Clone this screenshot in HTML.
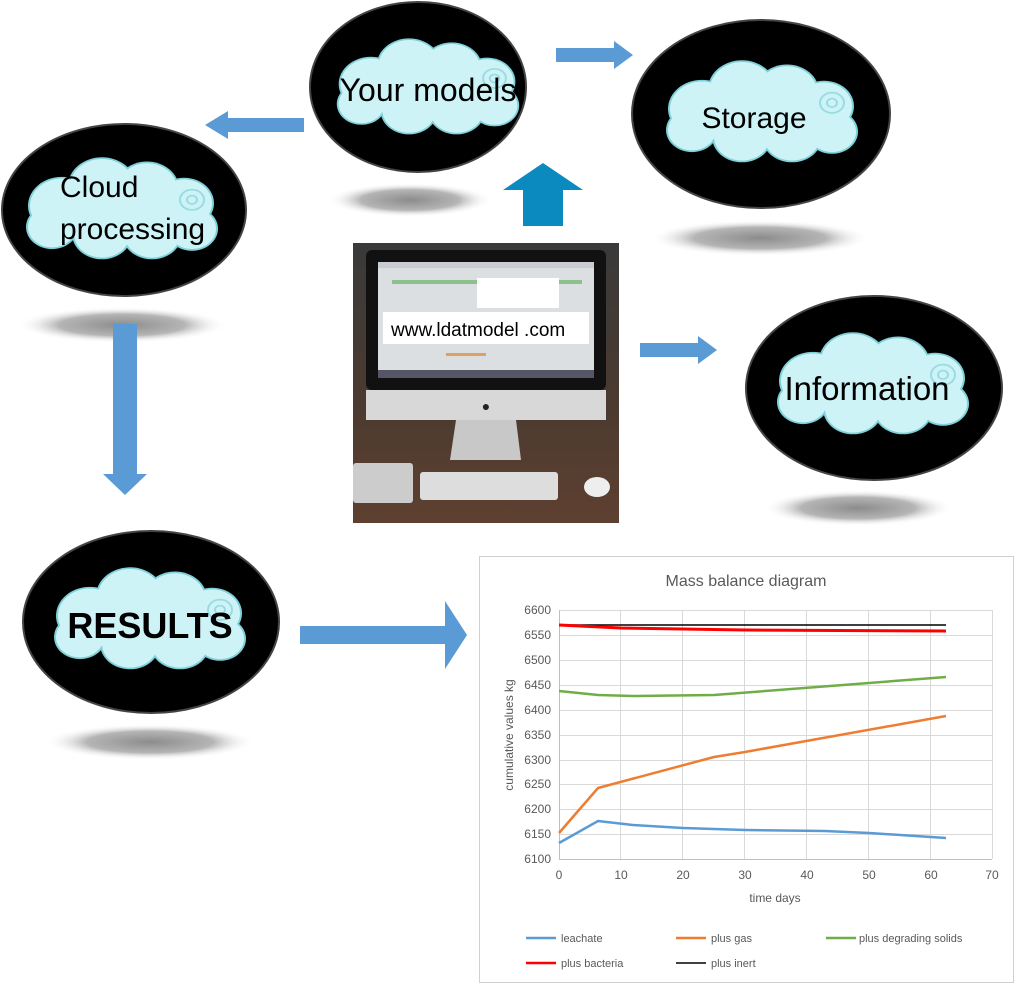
<!DOCTYPE html>
<html><head><meta charset="utf-8"><style>
body{margin:0;background:#fff}
svg{display:block}
text{font-family:"Liberation Sans",sans-serif}
</style></head><body>
<svg width="1015" height="983" viewBox="0 0 1015 983" xmlns="http://www.w3.org/2000/svg">
<defs>
<radialGradient id="sh"><stop offset="0" stop-color="#8c8c8c"/><stop offset="0.6" stop-color="#b5b5b5"/><stop offset="1" stop-color="#fff" stop-opacity="0"/></radialGradient>
<linearGradient id="desk" x1="0" y1="0" x2="0" y2="1"><stop offset="0" stop-color="#3a3a3a"/><stop offset="0.55" stop-color="#4a3a30"/><stop offset="1" stop-color="#5e4030"/></linearGradient>
<g id="cloud">
 <g fill="#7fd0d8">
  <circle cx="-60" cy="-5" r="34"/><circle cx="-20" cy="-28" r="34"/><circle cx="25" cy="-25" r="32"/><circle cx="62" cy="-8" r="30"/>
  <circle cx="70" cy="22" r="26"/><circle cx="30" cy="28" r="30"/><circle cx="-20" cy="28" r="30"/><circle cx="-70" cy="20" r="26"/>
 </g>
 <g fill="#cdf3f6">
  <circle cx="-60" cy="-5" r="32"/><circle cx="-20" cy="-28" r="32"/><circle cx="25" cy="-25" r="30"/><circle cx="62" cy="-8" r="28"/>
  <circle cx="70" cy="22" r="24"/><circle cx="30" cy="28" r="28"/><circle cx="-20" cy="28" r="28"/><circle cx="-70" cy="20" r="24"/>
  <rect x="-70" y="-30" width="140" height="60"/>
 </g>
 <circle cx="70" cy="-12" r="12" fill="none" stroke="#9adbe2" stroke-width="2"/>
 <circle cx="70" cy="-12" r="5" fill="none" stroke="#9adbe2" stroke-width="2"/>
</g>
</defs>

<ellipse cx="410" cy="200" rx="82" ry="17" fill="url(#sh)"/>
<ellipse cx="760" cy="238" rx="110" ry="18" fill="url(#sh)"/>
<ellipse cx="122" cy="325" rx="105" ry="18" fill="url(#sh)"/>
<ellipse cx="858" cy="508" rx="95" ry="18" fill="url(#sh)"/>
<ellipse cx="150" cy="742" rx="105" ry="18" fill="url(#sh)"/>

<ellipse cx="418" cy="87" rx="108" ry="85" fill="#000" stroke="#444" stroke-width="2"/>
<use href="#cloud" transform="translate(428,88) scale(0.95,0.8)"/>
<text x="428" y="101" font-size="32" text-anchor="middle">Your models</text>

<ellipse cx="761" cy="114" rx="129" ry="94" fill="#000" stroke="#444" stroke-width="2"/>
<use href="#cloud" transform="translate(762,113) scale(1,0.85)"/>
<text x="754" y="128" font-size="30" text-anchor="middle">Storage</text>

<ellipse cx="124" cy="210" rx="122" ry="86" fill="#000" stroke="#444" stroke-width="2"/>
<use href="#cloud" transform="translate(122,210) scale(1,0.85)"/>
<text x="60" y="197" font-size="30">Cloud</text>
<text x="60" y="239" font-size="30">processing</text>

<ellipse cx="874" cy="388" rx="128" ry="92" fill="#000" stroke="#444" stroke-width="2"/>
<use href="#cloud" transform="translate(873,385) scale(1,0.85)"/>
<text x="867" y="400" font-size="33" text-anchor="middle">Information</text>

<ellipse cx="151" cy="622" rx="128" ry="91" fill="#000" stroke="#444" stroke-width="2"/>
<use href="#cloud" transform="translate(150,620) scale(1,0.85)"/>
<text x="150" y="638" font-size="36" font-weight="bold" text-anchor="middle">RESULTS</text>

<g fill="#5b9bd5">
 <polygon points="304,118 228,118 228,111 205,125 228,139 228,132 304,132"/>
 <polygon points="556,48 614,48 614,41 633,55 614,69 614,62 556,62"/>
 <polygon points="640,343 698,343 698,336 717,350 698,364 698,357 640,357"/>
 <polygon points="113,324 137,324 137,474 147,474 125,495 103,474 113,474"/>
 <polygon points="300,626 445,626 445,601 467,635 445,669 445,644 300,644"/>
</g>
<polygon points="543,163 583,190 563,190 563,226 523,226 523,190 503,190" fill="#0b8abf"/>

<rect x="353" y="243" width="266" height="280" fill="url(#desk)"/>
<rect x="366" y="250" width="240" height="140" rx="6" fill="#111"/>
<rect x="378" y="262" width="216" height="116" fill="#dcdfe2"/>
<rect x="378" y="262" width="216" height="6" fill="#c9ccd0"/>
<rect x="392" y="280" width="190" height="4" fill="#8cc08c"/>
<rect x="477" y="278" width="82" height="30" fill="#fff"/>
<rect x="383" y="312" width="206" height="32" fill="#fff"/>
<text x="391" y="336" font-size="19">www.ldatmodel .com</text>
<rect x="446" y="353" width="40" height="3" fill="#e0a060"/>
<rect x="378" y="370" width="216" height="8" fill="#556"/>
<rect x="366" y="390" width="240" height="30" fill="#d8d8d8"/>
<text x="486" y="411" font-size="14" text-anchor="middle" fill="#222">●</text>
<polygon points="456,420 516,420 521,460 450,460" fill="#c8c8c8"/>
<rect x="353" y="463" width="60" height="40" rx="3" fill="#ccc"/>
<rect x="420" y="472" width="138" height="28" rx="3" fill="#ddd"/>
<ellipse cx="597" cy="487" rx="13" ry="10" fill="#eee"/>

<rect x="479.5" y="556.5" width="534" height="426" fill="#fff" stroke="#d0d0d0"/>
<text x="746" y="586" font-size="16" fill="#595959" text-anchor="middle">Mass balance diagram</text>
<g stroke="#d9d9d9" stroke-width="1">
 <line x1="559" y1="610.5" x2="992" y2="610.5"/><line x1="559" y1="635.5" x2="992" y2="635.5"/>
 <line x1="559" y1="660.5" x2="992" y2="660.5"/><line x1="559" y1="685.5" x2="992" y2="685.5"/>
 <line x1="559" y1="710.5" x2="992" y2="710.5"/><line x1="559" y1="735.5" x2="992" y2="735.5"/>
 <line x1="559" y1="760.5" x2="992" y2="760.5"/><line x1="559" y1="784.5" x2="992" y2="784.5"/>
 <line x1="559" y1="809.5" x2="992" y2="809.5"/><line x1="559" y1="834.5" x2="992" y2="834.5"/>
 <line x1="620.5" y1="610" x2="620.5" y2="859"/><line x1="682.5" y1="610" x2="682.5" y2="859"/>
 <line x1="744.5" y1="610" x2="744.5" y2="859"/><line x1="806.5" y1="610" x2="806.5" y2="859"/>
 <line x1="868.5" y1="610" x2="868.5" y2="859"/><line x1="930.5" y1="610" x2="930.5" y2="859"/>
 <line x1="992.5" y1="610" x2="992.5" y2="859"/>
</g>
<line x1="559" y1="859.5" x2="992" y2="859.5" stroke="#bfbfbf"/>
<line x1="559.5" y1="610" x2="559.5" y2="859" stroke="#bfbfbf"/>
<g font-size="12" fill="#595959" text-anchor="end">
 <text x="551" y="614">6600</text><text x="551" y="639">6550</text><text x="551" y="664">6500</text>
 <text x="551" y="689">6450</text><text x="551" y="714">6400</text><text x="551" y="739">6350</text>
 <text x="551" y="764">6300</text><text x="551" y="788">6250</text><text x="551" y="813">6200</text>
 <text x="551" y="838">6150</text><text x="551" y="863">6100</text>
</g>
<g font-size="12" fill="#595959" text-anchor="middle">
 <text x="559" y="879">0</text><text x="621" y="879">10</text><text x="683" y="879">20</text>
 <text x="745" y="879">30</text><text x="807" y="879">40</text><text x="869" y="879">50</text>
 <text x="931" y="879">60</text><text x="992" y="879">70</text>
 <text x="775" y="902">time days</text>
</g>
<text transform="translate(513,735) rotate(-90)" font-size="12" fill="#595959" text-anchor="middle">cumulative values kg</text>
<g fill="none" stroke-width="2.5">
 <polyline stroke="#5b9bd5" points="559,843 598,821 633,825 683,828 745,830 825,831 869,833 946,838"/>
 <polyline stroke="#ed7d31" points="559,833 598,788 714,757 745,752 946,716"/>
 <polyline stroke="#70ad47" points="559,691 598,695 633,696 714,695 946,677"/>
 <polyline stroke="#000" stroke-width="1.5" points="559,625 946,625"/>
 <polyline stroke="#ff0000" stroke-width="3" points="559,625 621,628 745,630 946,631"/>
</g>
<g font-size="11" fill="#595959">
 <line x1="526" y1="938" x2="556" y2="938" stroke="#5b9bd5" stroke-width="2.5"/><text x="561" y="942">leachate</text>
 <line x1="676" y1="938" x2="706" y2="938" stroke="#ed7d31" stroke-width="2.5"/><text x="711" y="942">plus gas</text>
 <line x1="826" y1="938" x2="856" y2="938" stroke="#70ad47" stroke-width="2.5"/><text x="859" y="942">plus degrading solids</text>
 <line x1="526" y1="963" x2="556" y2="963" stroke="#ff0000" stroke-width="2.5"/><text x="561" y="967">plus bacteria</text>
 <line x1="676" y1="963" x2="706" y2="963" stroke="#000" stroke-width="1.5"/><text x="711" y="967">plus inert</text>
</g>
</svg>
</body></html>
